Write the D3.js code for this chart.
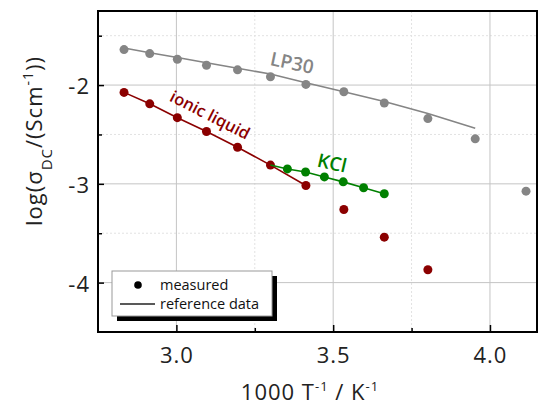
<!DOCTYPE html>
<html>
<head>
<meta charset="utf-8">
<script src="https://cdn.jsdelivr.net/npm/d3@7"></script>
<style>
  body { margin: 0; background: #fff; }
  svg { font-family: "Open Sans", Lato, sans-serif; }
</style>
</head>
<body>
<div id="chart"></div>
<script>
// 1000/T for T = 353 ... 243 K
var xTemps = [2.833, 2.915, 3.003, 3.096, 3.195, 3.300, 3.413, 3.534, 3.663, 3.802, 3.953, 4.115];

var lp30Measured = [-1.641, -1.681, -1.738, -1.799, -1.846, -1.916, -1.993, -2.067, -2.181, -2.339, -2.544, -3.074];
var lp30RefX = [2.833, 2.915, 3.003, 3.096, 3.195, 3.300, 3.413, 3.534, 3.663, 3.802, 3.953];
var lp30Ref = [-1.624, -1.672, -1.721, -1.774, -1.830, -1.888, -1.977, -2.068, -2.166, -2.287, -2.436];

var ilX = [2.833, 2.915, 3.003, 3.096, 3.195, 3.300, 3.413, 3.534, 3.663, 3.802];
var ilMeasured = [-2.074, -2.19, -2.33, -2.47, -2.63, -2.81, -3.017, -3.26, -3.54, -3.87];
var ilRefX = [2.833, 2.915, 3.003, 3.096, 3.195, 3.300, 3.413];
var ilRef = [-2.074, -2.19, -2.33, -2.47, -2.63, -2.81, -3.017];

var kclX = [3.354, 3.412, 3.472, 3.532, 3.597, 3.663];
var kclMeasured = [-2.849, -2.88, -2.93, -2.98, -3.04, -3.10];
var kclRefX = [3.300, 3.354, 3.412, 3.472, 3.532, 3.597, 3.663];
var kclRef = [-2.81, -2.849, -2.88, -2.93, -2.98, -3.04, -3.10];

var xMajor = [3.0, 3.5, 4.0];
var xMinor = [2.75, 3.25, 3.75];
var yMajor = [-2, -3, -4];
var yMinor = [-1.5, -2.5, -3.5, -4.5];

var W = 542, H = 407;
var pLeft = 98, pRight = 537, pTop = 11, pBottom = 332;

var svg = d3.select("#chart").append("svg")
    .attr("width", W)
    .attr("height", H);

var x = d3.scaleLinear().domain([2.75, 4.15]).range([pLeft, pRight]);
var y = d3.scaleLinear().domain([-4.5, -1.25]).range([pBottom, pTop]);

// grid
var grid = svg.append("g");
grid.selectAll("line.xmin").data(xMinor).enter().append("line")
    .attr("x1", d => x(d)).attr("x2", d => x(d)).attr("y1", pTop).attr("y2", pBottom)
    .attr("stroke", "#e2e2e2").attr("stroke-dasharray", "2,2");
grid.selectAll("line.ymin").data(yMinor).enter().append("line")
    .attr("y1", d => y(d)).attr("y2", d => y(d)).attr("x1", pLeft).attr("x2", pRight)
    .attr("stroke", "#e2e2e2").attr("stroke-dasharray", "2,2");
grid.selectAll("line.xmaj").data(xMajor).enter().append("line")
    .attr("x1", d => x(d)).attr("x2", d => x(d)).attr("y1", pTop).attr("y2", pBottom)
    .attr("stroke", "#c4c4c4");
grid.selectAll("line.ymaj").data(yMajor).enter().append("line")
    .attr("y1", d => y(d)).attr("y2", d => y(d)).attr("x1", pLeft).attr("x2", pRight)
    .attr("stroke", "#c4c4c4");

// axes (inward ticks)
var xAxis = svg.append("g")
    .attr("transform", "translate(0," + pBottom + ")")
    .call(d3.axisBottom(x).tickValues(xMajor).tickSizeInner(-7).tickSizeOuter(0)
        .tickPadding(15).tickFormat(d3.format(".1f")));
svg.append("g")
    .attr("transform", "translate(0," + pBottom + ")")
    .call(d3.axisBottom(x).tickValues([3.25, 3.75]).tickSizeInner(-4).tickSizeOuter(0).tickFormat(""));
var yAxis = svg.append("g")
    .attr("transform", "translate(" + pLeft + ",0)")
    .call(d3.axisLeft(y).tickValues(yMajor).tickSizeInner(-6).tickSizeOuter(0)
        .tickPadding(8).tickFormat(d => String(d)));
svg.append("g")
    .attr("transform", "translate(" + pLeft + ",0)")
    .call(d3.axisLeft(y).tickValues([-1.5, -2.5, -3.5]).tickSizeInner(-4).tickSizeOuter(0).tickFormat(""));

svg.selectAll(".domain").remove();
svg.selectAll(".tick line").attr("stroke", "#000").attr("stroke-width", 1.5);
xAxis.selectAll("text").attr("font-size", 22).attr("letter-spacing", 1).attr("fill", "#222")
    .attr("font-family", "Open Sans");
yAxis.selectAll("text").attr("font-size", 22).attr("letter-spacing", 1).attr("fill", "#222")
    .attr("font-family", "Open Sans").attr("dy", "0.4em");

// frame
svg.append("rect")
    .attr("x", pLeft).attr("y", pTop)
    .attr("width", pRight - pLeft).attr("height", pBottom - pTop)
    .attr("fill", "none").attr("stroke", "#000").attr("stroke-width", 2);

// series
var line = d3.line().x(d => x(d[0])).y(d => y(d[1]));

function drawSeries(refX, ref, mX, m, color) {
  svg.append("path")
      .datum(refX.map((v, i) => [v, ref[i]]))
      .attr("d", line)
      .attr("fill", "none")
      .attr("stroke", color)
      .attr("stroke-width", 1.6);
  svg.append("g").selectAll("circle")
      .data(mX.map((v, i) => [v, m[i]]))
      .enter().append("circle")
      .attr("cx", d => x(d[0]))
      .attr("cy", d => y(d[1]))
      .attr("r", 4.5)
      .attr("fill", color);
}

drawSeries(lp30RefX, lp30Ref, xTemps, lp30Measured, "#858585");
drawSeries(ilRefX, ilRef, ilX, ilMeasured, "#8b0000");
drawSeries(kclRefX, kclRef, kclX, kclMeasured, "#008000");

// series labels
function label(txt, cx, cy, angle, color, size) {
  svg.append("text")
      .attr("transform", "translate(" + cx + "," + cy + ") rotate(" + angle + ")")
      .attr("text-anchor", "middle")
      .attr("dy", "0.35em")
      .attr("font-size", size)
      .attr("font-weight", 600)
      .attr("fill", color)
      .text(txt);
}
label("LP30", 292, 63, 12, "#858585", 19);
label("ionic liquid", 210, 115, 27, "#8b0000", 16.5);
label("KCl", 332, 163, 13, "#008000", 19);

// legend
var lg = svg.append("g");
lg.append("rect").attr("x", 117).attr("y", 276).attr("width", 160).attr("height", 45).attr("fill", "#000");
lg.append("rect").attr("x", 112).attr("y", 271).attr("width", 160).attr("height", 45)
    .attr("fill", "#fff").attr("stroke", "#999").attr("stroke-width", 1);
lg.append("circle").attr("cx", 138).attr("cy", 285).attr("r", 3.8).attr("fill", "#000");
lg.append("line").attr("x1", 120).attr("x2", 155).attr("y1", 304).attr("y2", 304)
    .attr("stroke", "#222").attr("stroke-width", 1.3);
lg.append("text").attr("x", 160).attr("y", 290).attr("font-size", 14.5).attr("fill", "#111").text("measured");
lg.append("text").attr("x", 160).attr("y", 309).attr("font-size", 14.5).attr("fill", "#111").text("reference data");

// axis titles
var xt = svg.append("text")
    .attr("x", 310).attr("y", 400)
    .attr("text-anchor", "middle")
    .attr("font-size", 22).attr("letter-spacing", 1).attr("fill", "#222");
xt.append("tspan").text("1000 T");
xt.append("tspan").attr("baseline-shift", "super").attr("font-size", 13).text("-1");
xt.append("tspan").text(" / K");
xt.append("tspan").attr("baseline-shift", "super").attr("font-size", 13).text("-1");

var yt = svg.append("text")
    .attr("transform", "translate(42,141) rotate(-90)")
    .attr("text-anchor", "middle")
    .attr("font-size", 22).attr("letter-spacing", 1).attr("fill", "#222");
yt.append("tspan").text("log(σ");
yt.append("tspan").attr("baseline-shift", "sub").attr("font-size", 15).text("DC");
yt.append("tspan").text("/(Scm");
yt.append("tspan").attr("baseline-shift", "super").attr("font-size", 14).text("-1");
yt.append("tspan").text("))");
</script>
</body>
</html>
